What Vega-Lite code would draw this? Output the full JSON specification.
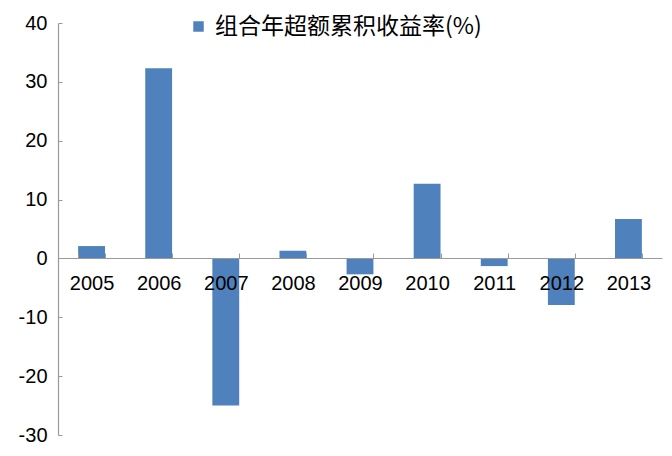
{
  "$schema": "https://vega.github.io/schema/vega-lite/v6.json",
  "width": 604,
  "height": 412,
  "autosize": {"type": "none"},
  "padding": {"left": 58, "top": 23, "right": 10, "bottom": 21},
  "background": "white",
  "data": {
    "values": [
      {"year": "2005", "value": 2.1, "series": "组合年超额累积收益率(%)"},
      {"year": "2006", "value": 32.3, "series": "组合年超额累积收益率(%)"},
      {"year": "2007", "value": -25.0, "series": "组合年超额累积收益率(%)"},
      {"year": "2008", "value": 1.3, "series": "组合年超额累积收益率(%)"},
      {"year": "2009", "value": -2.7, "series": "组合年超额累积收益率(%)"},
      {"year": "2010", "value": 12.7, "series": "组合年超额累积收益率(%)"},
      {"year": "2011", "value": -1.3, "series": "组合年超额累积收益率(%)"},
      {"year": "2012", "value": -7.9, "series": "组合年超额累积收益率(%)"},
      {"year": "2013", "value": 6.7, "series": "组合年超额累积收益率(%)"}
    ]
  },
  "config": {
    "view": {"stroke": null},
    "font": "Liberation Sans"
  },
  "mark": {"type": "bar"},
  "encoding": {
    "x": {
      "field": "year",
      "type": "nominal",
      "sort": null,
      "scale": {"paddingInner": 0.6, "paddingOuter": 0.3},
      "axis": {
        "title": null,
        "orient": "bottom",
        "offset": -177,
        "labelAngle": 0,
        "labelFont": "Liberation Sans",
        "labelFontSize": 20,
        "labelColor": "#000000",
        "labelPadding": 20,
        "domainColor": "#9a9a9a",
        "domainWidth": 1.2,
        "tickColor": "#9a9a9a",
        "tickSize": -5,
        "tickBand": "extent",
        "zindex": 2
      }
    },
    "y": {
      "field": "value",
      "type": "quantitative",
      "scale": {"domain": [-30, 40], "nice": false, "zero": false},
      "axis": {
        "title": null,
        "values": [-30, -20, -10, 0, 10, 20, 30, 40],
        "labelExpr": "'' + datum.value",
        "grid": false,
        "labelFont": "Liberation Sans",
        "labelFontSize": 20,
        "labelColor": "#000000",
        "labelPadding": 15,
        "domainColor": "#9a9a9a",
        "domainWidth": 1.2,
        "tickColor": "#9a9a9a",
        "tickSize": -4,
        "zindex": 1
      }
    },
    "color": {
      "field": "series",
      "type": "nominal",
      "scale": {"range": ["#4F81BD"]},
      "legend": {
        "title": null,
        "orient": "none",
        "legendX": 129,
        "legendY": -8,
        "symbolType": "square",
        "symbolSize": 110,
        "symbolStrokeWidth": 0,
        "labelFont": "Noto Sans CJK SC",
        "labelFontSize": 23,
        "labelColor": "#000000",
        "labelOffset": 5,
        "labelLimit": 400
      }
    }
  }
}
